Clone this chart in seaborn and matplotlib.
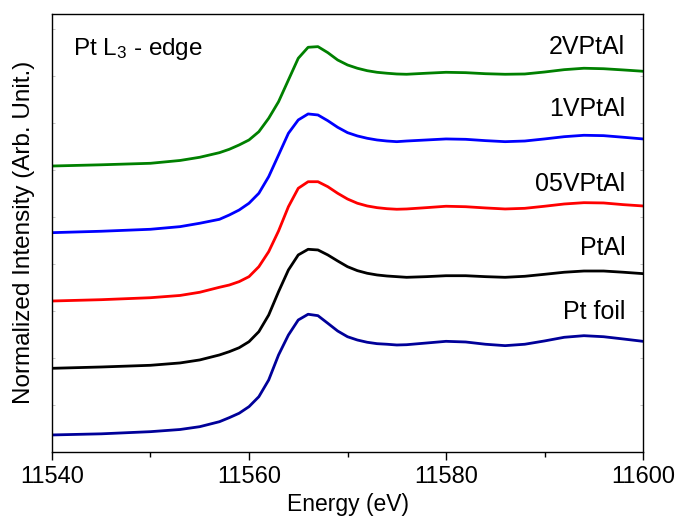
import numpy as np
import pandas as pd
import matplotlib
matplotlib.use("Agg")
import matplotlib.pyplot as plt
import seaborn as sns
from matplotlib.ticker import MultipleLocator

# ---------------- data (stacked, arbitrary units) ----------------
energy = [11540, 11545, 11550, 11553, 11555, 11557,
          11558, 11559, 11560, 11561, 11562, 11563, 11564, 11565, 11566, 11567,
          11568, 11569, 11570, 11571, 11572, 11573, 11574, 11575,
          11576, 11578, 11580, 11582, 11584, 11586, 11588, 11590, 11592, 11594,
          11596, 11598, 11600]

pt_foil = [0.178, 0.190, 0.213, 0.236, 0.266, 0.319,
           0.362, 0.409, 0.479, 0.585, 0.763, 1.029, 1.241, 1.401, 1.462, 1.447,
           1.366, 1.284, 1.223, 1.188, 1.164, 1.149, 1.143, 1.135,
           1.138, 1.156, 1.174, 1.167, 1.143, 1.128, 1.143, 1.178, 1.217, 1.234,
           1.223, 1.199, 1.174]
ptal = [0.887, 0.901, 0.919, 0.944, 0.976, 1.029,
        1.064, 1.106, 1.170, 1.277, 1.454, 1.702, 1.933, 2.093, 2.153, 2.146,
        2.093, 2.029, 1.968, 1.926, 1.898, 1.880, 1.869, 1.862,
        1.855, 1.862, 1.872, 1.872, 1.862, 1.855, 1.866, 1.887, 1.909, 1.922,
        1.922, 1.909, 1.894]
v05ptal = [1.603, 1.617, 1.638, 1.662, 1.696, 1.749,
           1.773, 1.809, 1.862, 1.968, 2.128, 2.348, 2.606, 2.802, 2.872, 2.872,
           2.819, 2.749, 2.688, 2.643, 2.614, 2.596, 2.585, 2.579,
           2.582, 2.596, 2.611, 2.606, 2.593, 2.582, 2.589, 2.611, 2.635, 2.649,
           2.646, 2.628, 2.614]
v1ptal = [2.330, 2.345, 2.366, 2.394, 2.430, 2.472,
          2.518, 2.571, 2.643, 2.749, 2.926, 3.156, 3.387, 3.529, 3.593, 3.582,
          3.521, 3.451, 3.394, 3.359, 3.334, 3.316, 3.305, 3.298,
          3.305, 3.316, 3.327, 3.323, 3.309, 3.298, 3.305, 3.327, 3.351, 3.366,
          3.362, 3.345, 3.327]
v2ptal = [3.039, 3.052, 3.068, 3.098, 3.132, 3.181,
          3.217, 3.263, 3.316, 3.404, 3.547, 3.723, 3.954, 4.185, 4.302, 4.309,
          4.245, 4.167, 4.114, 4.079, 4.053, 4.036, 4.026, 4.018,
          4.015, 4.026, 4.036, 4.032, 4.021, 4.015, 4.018, 4.039, 4.064, 4.079,
          4.074, 4.061, 4.047]

samples = ["Pt foil", "PtAl", "05VPtAl", "1VPtAl", "2VPtAl"]
colors = ["#000099", "#000000", "#FF0000", "#0000FF", "#008000"]
series = [pt_foil, ptal, v05ptal, v1ptal, v2ptal]
xticks = [11540, 11560, 11580, 11600]

# ---------------- styling ----------------
sns.set_theme(style="ticks")
plt.rcParams["font.family"] = ["Liberation Sans", "DejaVu Sans"]
plt.rcParams["mathtext.default"] = "regular"
plt.rcParams["text.color"] = "black"
plt.rcParams["axes.labelcolor"] = "black"
plt.rcParams["xtick.color"] = "black"
plt.rcParams["xtick.labelcolor"] = "black"

df = pd.concat([pd.DataFrame({"Energy": energy, "Intensity": vals, "Sample": name})
                for name, vals in zip(samples, series)], ignore_index=True)

fig = plt.figure(figsize=(6.77, 5.19), dpi=100)
ax = fig.add_axes([0.0768, 0.1297, 0.8730, 0.8433])

sns.lineplot(data=df, x="Energy", y="Intensity", hue="Sample",
             palette=dict(zip(samples, colors)), hue_order=samples,
             sort=False, legend=False, linewidth=2.0, ax=ax)

ax.set_xlim(11540, 11600)
ax.set_ylim(0, 4.656)

ax.set_xticks(xticks)
ax.set_xticklabels([str(t) for t in xticks])
ax.xaxis.set_minor_locator(MultipleLocator(10))
ax.yaxis.set_major_locator(MultipleLocator(0.5))
ax.tick_params(axis="x", which="major", direction="out", length=6, width=1.0,
               labelsize=17, pad=4, colors="black", labelcolor="black", top=False)
ax.tick_params(axis="x", which="minor", direction="out", length=3.5, width=1.0,
               colors="black", top=False)
ax.tick_params(axis="y", which="both", direction="in", length=2, width=0.6,
               color="#bbbbbb", labelleft=False, right=True)

for sp in ax.spines.values():
    sp.set_visible(True)
    sp.set_linewidth(1.0)
    sp.set_color("black")

ax.set_xlabel("Energy (eV)", fontsize=16.5, labelpad=4, color="black")
ax.set_ylabel("Normalized Intensity (Arb. Unit.)", fontsize=17.5, labelpad=12,
              color="black")

label_y = [1.489, 2.167, 2.846, 3.646, 4.305]
for name, ly in zip(samples, label_y):
    ax.text(11598.2, ly, name, ha="right", va="center", fontsize=18, color="black")

ax.text(11542.1, 4.284, "Pt L$_3$ - edge", ha="left", va="center", fontsize=17.5,
        color="black")

fig.savefig("out.png", dpi=100)
